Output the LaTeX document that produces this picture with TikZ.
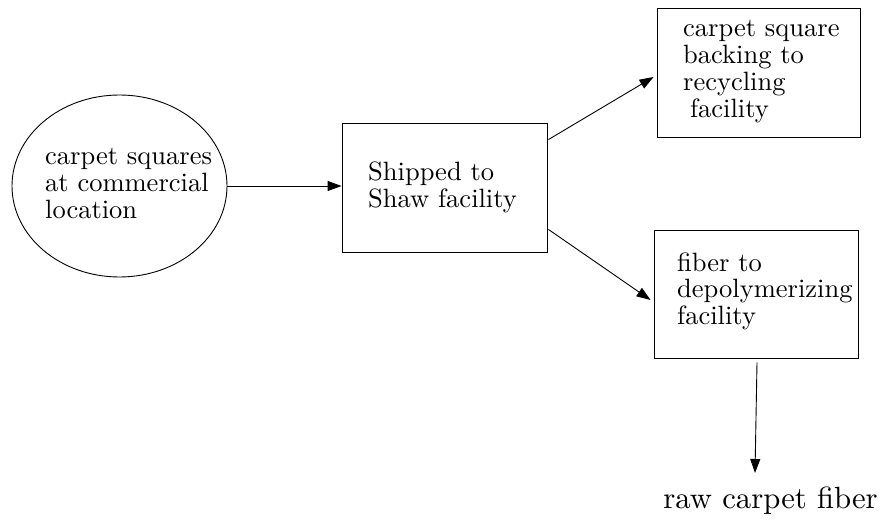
\documentclass[tikz,border=0pt]{standalone}
\usetikzlibrary{shapes.geometric,arrows.meta,calc}
\begin{document}
\begin{tikzpicture}[x=1pt,y=-1pt,
  line width=0.9pt,
  arr/.style={-{Triangle[length=14pt,width=10pt]}},
  boxnode/.style={draw,rectangle,inner sep=0pt},
  txt/.style={inner sep=0pt,anchor=base west,scale=2.65,font=\fontsize{10}{10.07}\selectfont},
  bigtxt/.style={inner sep=0pt,anchor=base west,scale=3.07,font=\fontsize{10}{12}\selectfont}]
\useasboundingbox (0,0) rectangle (885,521);
% shapes
\node[draw,ellipse,inner sep=0pt,minimum width=215pt,minimum height=182pt] (loc) at (119.5,186) {};
\node[boxnode,minimum width=205pt,minimum height=129pt] (ship) at (444.5,187.5) {};
\node[boxnode,minimum width=203pt,minimum height=129pt] (back) at (758.5,72.5) {};
\node[boxnode,minimum width=204pt,minimum height=128pt] (fiber) at (756,294) {};
% texts
\node[txt] (loctxt) at (44,165) {\begin{tabular}[t]{@{}l@{}}carpet squares\\at commercial\\location\end{tabular}};
\node[txt] (shiptxt) at (367,181) {\begin{tabular}[t]{@{}l@{}}Shipped to\\Shaw facility\end{tabular}};
\node[txt] (backtxt) at (682,37) {\begin{tabular}[t]{@{}l@{}}carpet square\\backing to\\recycling\\\hspace{2.6pt}facility\end{tabular}};
\node[txt] (fibertxt) at (676,271) {\begin{tabular}[t]{@{}l@{}}fiber to\\depolymerizing\\facility\end{tabular}};
\node[bigtxt] (raw) at (662,508) {raw carpet fiber};
\coordinate (rawtip) at (755,473);
% connectors
\draw[arr] (loc.east) -- (ship.west |- loc.east);
\draw[arr] ($(ship.north east)+(1,17)$) -- ($(back.west)+(-3,4.5)$);
\draw[arr] ($(ship.south east)+(1,-23)$) -- ($(fiber.west)+(-3,6)$);
\draw[arr] ($(fiber.south)+(1,4)$) -- (rawtip);
\end{tikzpicture}
\end{document}
